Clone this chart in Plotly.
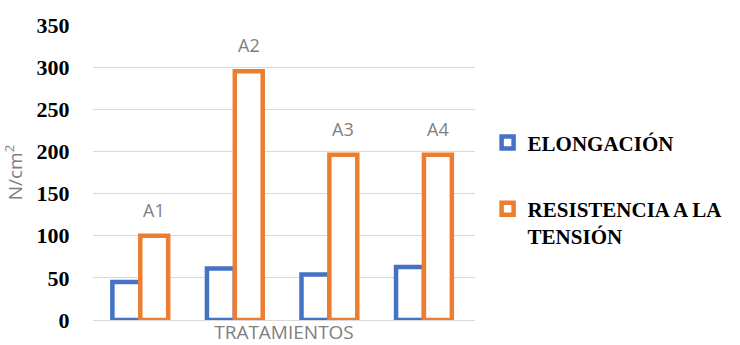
import plotly.graph_objects as go

# Data
categories = ["A1", "A2", "A3", "A4"]
elongacion = [45, 61, 54, 63]
resistencia = [100, 295, 196, 196]
bar_labels = ["A1", "A2", "A3", "A4"]
y_ticks = [0, 50, 100, 150, 200, 250, 300, 350]

BLUE = "#4472C4"
ORANGE = "#ED7D31"
GRAY = "#7f7f7f"
BARGAP = 0.41

fig = go.Figure()
fig.add_trace(go.Bar(
    x=categories, y=elongacion, name="ELONGACIÓN",
    marker=dict(color="white", line=dict(color=BLUE, width=4.5)),
    legendgroup="g1",
))
fig.add_trace(go.Bar(
    x=categories, y=resistencia, name="RESISTENCIA A LA<br>TENSIÓN",
    marker=dict(color="white", line=dict(color=ORANGE, width=4.5)),
    legendgroup="g2",
))

# Labels above the orange bars
offset = (1 - BARGAP) / 4
for i, (lab, val) in enumerate(zip(bar_labels, resistencia)):
    fig.add_annotation(
        x=i + offset, y=val, xref="x", yref="y", text=lab, showarrow=False,
        yshift=26, font=dict(family="Open Sans", size=18, color=GRAY),
    )

fig.update_layout(
    width=740, height=345,
    margin=dict(l=93, r=263, t=25, b=25),
    paper_bgcolor="white", plot_bgcolor="white",
    barmode="group", bargap=BARGAP, bargroupgap=0,
    showlegend=True,
    legend=dict(
        x=1.033, y=0.67, xanchor="left", yanchor="top",
        font=dict(family="Liberation Serif", size=21, color="black", weight="bold"),
        traceorder="grouped", tracegroupgap=36, valign="top",
        itemwidth=30,
    ),
    xaxis=dict(
        type="category", range=[-0.5, 3.54], showticklabels=False,
        showgrid=False, showline=False, zeroline=False, ticks="",
        title=dict(text="TRATAMIENTOS", standoff=10,
                   font=dict(family="Open Sans", size=19, color=GRAY)),
        automargin=False,
    ),
    yaxis=dict(
        range=[0, 350], tickvals=y_ticks, showgrid=True,
        gridcolor="#d9d9d9", gridwidth=1, zeroline=True,
        zerolinecolor="#d9d9d9", zerolinewidth=1, showline=False,
        ticks="outside", ticklen=18, tickcolor="rgba(0,0,0,0)",
        tickfont=dict(family="Liberation Serif", size=22, color="black", weight="bold"),
        title=dict(text="N/cm<sup>2</sup>", standoff=18,
                   font=dict(family="Open Sans", size=19, color=GRAY)),
        automargin=False,
    ),
)

fig.write_html("out.html")
